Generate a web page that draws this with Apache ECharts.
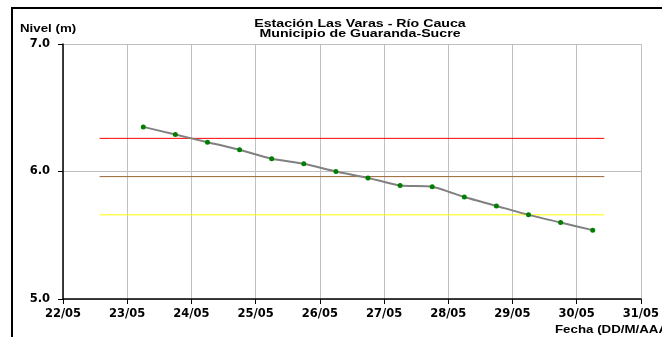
<!DOCTYPE html>
<html><head><meta charset="utf-8">
<script src="https://cdn.jsdelivr.net/npm/echarts@6/dist/echarts.min.js"></script>
<style>html,body{margin:0;padding:0;background:#fff}#c{width:662px;height:337px}</style>
</head><body><div id="c"></div>
<script>
// x positions in days after 22/05 00:00
const days = [1.25,1.75,2.25,2.75,3.25,3.75,4.25,4.75,5.25,5.75,6.25,6.75,7.25,7.75,8.25];
const nivel = [6.35,6.29,6.23,6.17,6.10,6.06,6.00,5.95,5.89,5.88,5.80,5.73,5.66,5.60,5.54];
const xTickLabels = ['22/05','23/05','24/05','25/05','26/05','27/05','28/05','29/05','30/05','31/05'];
const thresholdSpan = [0.57, 8.43];
const rojo = 6.26, naranja = 5.96, amarillo = 5.66;

const F = 'Arial, "Liberation Sans", sans-serif';
const FA = '"DejaVu Sans", sans-serif';
const chart = echarts.init(document.getElementById('c'));
const thr = (v, color) => ({
  type: 'line', data: [[thresholdSpan[0], v], [thresholdSpan[1], v]],
  symbol: 'none', lineStyle: {color: color, width: 1}, silent: true, z: 1
});
const txt = (s, x, y, align, sx) => ({
  type: 'text', x: x, y: y, scaleX: sx,
  style: {text: s, font: 'bold 10px ' + F, fill: '#000', align: align, verticalAlign: 'middle', textAlign: align, textVerticalAlign: 'middle'}
});
chart.setOption({
  animation: false,
  grid: {left: 63, right: 18, top: 44, bottom: 38},
  graphic: [
    {type: 'polyline', shape: {points: [[12, 340], [12, 8], [670, 8]]}, style: {stroke: '#000', lineWidth: 2, fill: null}},
    txt('Nivel (m)', 20, 29.5, 'left', 1.33),
    txt('Fecha (DD/M/AAAA)', 555, 330, 'left', 1.33),
    txt('Estación Las Varas - Río Cauca', 360, 24, 'center', 1.42),
    txt('Municipio de Guaranda-Sucre', 360, 34.5, 'center', 1.42)
  ],
  xAxis: {
    type: 'value', min: 0, max: 9, interval: 1,
    axisLine: {onZero: false, lineStyle: {color: '#000', width: 1.5}},
    axisTick: {show: true, length: 5, lineStyle: {color: '#000'}},
    axisLabel: {formatter: v => xTickLabels[v] || '', color: '#000', fontWeight: 'bold', fontSize: 11.5, fontFamily: FA, margin: 9},
    splitLine: {show: true, lineStyle: {color: '#c0c0c0', width: 1}}
  },
  yAxis: {
    type: 'value', min: 5, max: 7, interval: 1,
    axisLine: {show: true, lineStyle: {color: '#000', width: 1.5}},
    axisTick: {show: true, length: 5, lineStyle: {color: '#000'}},
    axisLabel: {formatter: v => v.toFixed(1), color: '#000', fontWeight: 'bold', fontSize: 11.5, fontFamily: FA, margin: 13},
    splitLine: {show: true, lineStyle: {color: '#c0c0c0', width: 1}}
  },
  series: [
    thr(rojo, '#ff0000'),
    thr(naranja, '#996633'),
    thr(amarillo, '#ffff00'),
    {
      type: 'line', data: days.map((d, i) => [d, nivel[i]]),
      smooth: 0.2, symbol: 'circle', symbolSize: 5,
      lineStyle: {color: '#808080', width: 2},
      itemStyle: {color: '#008000', borderWidth: 0}, z: 3
    }
  ]
});
</script></body></html>
